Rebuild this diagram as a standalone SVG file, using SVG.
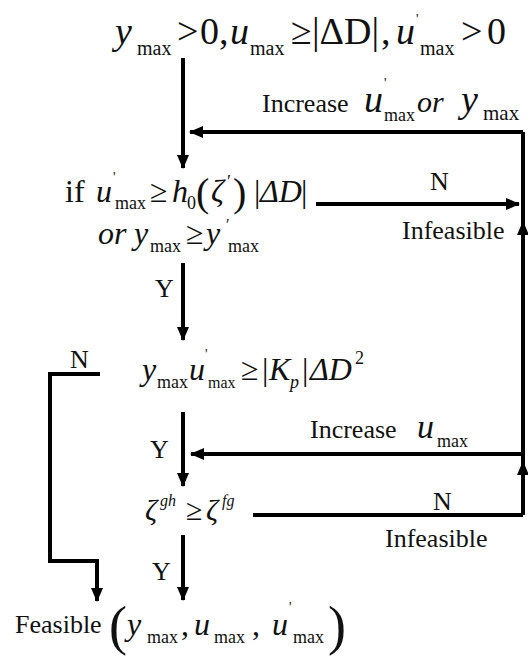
<svg xmlns="http://www.w3.org/2000/svg" width="528" height="656" viewBox="0 0 528 656">
<style>
text{font-family:"Liberation Serif","Times New Roman",serif;fill:#111}
.i{font-style:italic}
.c{fill:none;stroke:#000;stroke-width:4;stroke-linejoin:miter}
.a{marker-end:url(#ah)}
</style>
<defs>
<marker id="ah" markerUnits="userSpaceOnUse" markerWidth="16" markerHeight="14" refX="13" refY="6" orient="auto">
<path d="M0,0 L14,6 L0,12 z" fill="#000"/>
</marker>
</defs>
<rect width="528" height="656" fill="#fff"/>
<g id="connectors">
<path class="c a" d="M183,58 V168"/>
<path class="c" d="M523,132 V515"/>
<path class="c a" d="M523,132 H190"/>
<path class="c a" d="M316,204 H519"/>
<path class="c a" d="M523,242 V222"/>
<path class="c a" d="M183,263 V340"/>
<path class="c a" d="M183,412 V486"/>
<path class="c a" d="M523,454 H191"/>
<path class="c a" d="M523,482 V462"/>
<path class="c" d="M253,515 H523"/>
<path class="c a" d="M183,535 V600"/>
<path class="c a" d="M100,374 H50 V561 H97 V601"/>
</g>
<g id="start">
<text font-size="38" y="44"><tspan x="115" class="i">y</tspan><tspan x="137" y="55" font-size="20">max</tspan><tspan x="177" y="44">&gt;</tspan><tspan x="200">0,</tspan><tspan x="230" class="i">u</tspan><tspan x="250" y="55" font-size="20">max</tspan><tspan x="291" y="44">≥</tspan><tspan x="312">|ΔD|</tspan><tspan x="381">,</tspan><tspan x="396" class="i">u</tspan><tspan x="416" y="24" font-size="14">'</tspan><tspan x="420" y="55" font-size="20">max</tspan><tspan x="461" y="44">&gt;</tspan><tspan x="487">0</tspan></text>
</g>
<g id="increase-label-1">
<text font-size="26" y="112"><tspan x="262">Increase</tspan><tspan x="364" class="i" font-size="38">u</tspan><tspan x="384" y="88" font-size="14">'</tspan><tspan x="384" y="121" font-size="18">max</tspan><tspan x="417" y="112" class="i" font-size="30">or</tspan><tspan x="461" class="i" font-size="38">y</tspan><tspan x="483" y="120" font-size="21">max</tspan></text>
</g>
<g id="cond1">
<text font-size="32" y="202"><tspan x="65">if</tspan><tspan x="96" class="i">u</tspan><tspan x="113" y="182" font-size="14">'</tspan><tspan x="115" y="209" font-size="18">max</tspan><tspan x="150" y="202">≥</tspan><tspan x="172" class="i">h</tspan><tspan x="187" y="209" font-size="18">0</tspan><tspan x="196" y="206" font-size="40">(</tspan><tspan x="211" y="202" class="i">ζ</tspan><tspan x="227" y="188" font-size="18">′</tspan><tspan x="233" y="206" font-size="40">)</tspan><tspan x="254" y="202">|</tspan><tspan x="260" class="i">ΔD</tspan><tspan x="301">|</tspan></text>
<text font-size="32" y="244"><tspan x="98" class="i">or</tspan><tspan x="134" class="i">y</tspan><tspan x="150" y="252" font-size="18">max</tspan><tspan x="186" y="244">≥</tspan><tspan x="206" class="i">y</tspan><tspan x="226" y="230" font-size="16">′</tspan><tspan x="228" y="252" font-size="18">max</tspan></text>
<text font-size="26" x="430" y="190">N</text>
<text font-size="26" x="402" y="239">Infeasible</text>
<text font-size="26" x="155" y="297">Y</text>
</g>
<g id="cond2">
<text font-size="32" y="380"><tspan x="142" class="i">y</tspan><tspan x="157" y="388" font-size="18">max</tspan><tspan x="189" y="380" class="i">u</tspan><tspan x="205" y="359" font-size="14">'</tspan><tspan x="208" y="388" font-size="16">max</tspan><tspan x="241" y="380">≥</tspan><tspan x="262">|</tspan><tspan x="269" class="i">K</tspan><tspan x="290" y="388" class="i" font-size="18">p</tspan><tspan x="302" y="380">|</tspan><tspan x="310" class="i">ΔD</tspan><tspan x="355" y="364" font-size="18">2</tspan></text>
<text font-size="26" x="70" y="368">N</text>
<text font-size="26" x="150" y="458">Y</text>
</g>
<g id="increase-label-2">
<text font-size="26" y="438"><tspan x="310">Increase</tspan><tspan x="417" class="i" font-size="34">u</tspan><tspan x="437" y="447" font-size="18">max</tspan></text>
</g>
<g id="cond3">
<text font-size="30" y="520" fill="#333"><tspan x="145" class="i">ζ</tspan><tspan x="160" y="506" class="i" font-size="16">gh</tspan><tspan x="186" y="520">≥</tspan><tspan x="206" class="i">ζ</tspan><tspan x="222" y="506" class="i" font-size="16">fg</tspan></text>
<text font-size="26" x="433" y="510">N</text>
<text font-size="26" x="385" y="547">Infeasible</text>
<text font-size="26" x="152" y="580">Y</text>
</g>
<g id="feasible">
<text font-size="26" y="633"><tspan x="15">Feasible</tspan><tspan x="109" y="644" font-size="54">(</tspan><tspan x="127" y="635" class="i" font-size="32">y</tspan><tspan x="147" y="643" font-size="18">max</tspan><tspan x="181" y="635" font-size="32">,</tspan><tspan x="194" class="i" font-size="32">u</tspan><tspan x="214" y="643" font-size="18">max</tspan><tspan x="252" y="635" font-size="32">,</tspan><tspan x="272" class="i" font-size="32">u</tspan><tspan x="289" y="612" font-size="14">'</tspan><tspan x="293" y="643" font-size="18">max</tspan><tspan x="328" y="644" font-size="54">)</tspan></text>
</g>
</svg>
